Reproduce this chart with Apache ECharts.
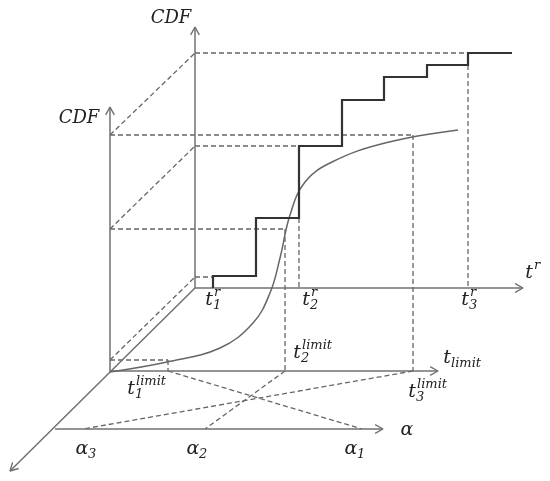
<!DOCTYPE html>
<html>
<head>
<meta charset="utf-8">
<script src="https://cdn.jsdelivr.net/npm/echarts@6/dist/echarts.min.js"></script>
<style>
  html, body { margin: 0; padding: 0; background: #fff; }
  #chart { width: 550px; height: 481px; }
</style>
</head>
<body>
<div id="chart"></div>
<script>
(function () {
    // diagram space = picture pixels (x right, y down)
    const solidAxes = [
        [[195, 288], [195, 27]],
        [[110, 372], [110, 107]],
        [[195, 288], [523, 288]],
        [[110, 371], [438, 371]],
        [[55, 429], [383, 429]],
        [[195, 288], [10, 471]]
    ];
    const stepCdf = [
        [213, 288], [213, 276], [256, 276], [256, 218], [299, 218], [299, 146],
        [342, 146], [342, 100], [384, 100], [384, 77], [427, 77], [427, 65],
        [468, 65], [468, 53], [512, 53]
    ];
    const smoothCdf = [
        [110, 372], [167, 362], [220, 348], [253, 323], [270, 293], [280, 258],
        [290, 215], [305, 182], [332, 162], [385, 143], [458, 130]
    ];
    const guideLines = [
        [[110, 135], [195, 53]],
        [[195, 53], [468, 53]],
        [[110, 135], [413, 135]],
        [[413, 135], [413, 371]],
        [[110, 229], [195, 146]],
        [[195, 146], [299, 146]],
        [[110, 229], [285, 229]],
        [[285, 229], [285, 371]],
        [[299, 218], [299, 288]],
        [[468, 65], [468, 288]],
        [[110, 360], [195, 277]],
        [[195, 277], [213, 277]],
        [[110, 360], [168, 360]],
        [[168, 360], [168, 371]],
        [[168, 371], [362, 429]],
        [[413, 371], [83, 429]],
        [[285, 371], [205, 429]]
    ];
    // [base, sup, sub, centre x, centre y]
    const tickLabels = [
        ['t', 'r', '1', 209, 300],
        ['t', 'r', '2', 306, 300],
        ['t', 'r', '3', 465, 300],
        ['t', 'r', '', 529, 273],
        ['t', 'limit', '1', 131, 389],
        ['t', 'limit', '2', 297, 353],
        ['t', 'limit', '3', 412, 392],
        ['t', '', 'limit', 447, 358],
        ['α', '', '3', 82, 449],
        ['α', '', '2', 193, 449],
        ['α', '', '1', 351, 449],
        ['α', '', '', 407, 430],
        ['CDF', '', '', 171, 18],
        ['CDF', '', '', 79, 118]
    ];

    const ink = '#666';
    const face = 'italic 19px "DejaVu Serif", serif';
    const small = 'italic 13px "DejaVu Serif", serif';

    function arrowHead(seg) {
        const [a, b] = seg;
        const ang = Math.atan2(b[1] - a[1], b[0] - a[0]);
        const len = 9, spread = 0.5;
        const wing = s => [b[0] - len * Math.cos(ang + s), b[1] - len * Math.sin(ang + s)];
        return [wing(spread), b, wing(-spread)];
    }

    function lineSeries(data, style, extra) {
        return Object.assign({
            type: 'line',
            data: data,
            showSymbol: false,
            symbol: 'none',
            silent: true,
            lineStyle: style
        }, extra || {});
    }

    function textParts(item) {
        const [base, sup, sub, cx, cy] = item;
        const big = base === 'CDF' ? 'italic 18px "DejaVu Serif", serif' : face;
        const parts = [{
            type: 'text',
            x: cx, y: cy,
            style: { text: base, font: big, fill: '#222', align: 'center', verticalAlign: 'middle' }
        }];
        const half = base === 'α' ? 6 : 4;
        if (sup) {
            parts.push({
                type: 'text', x: cx + half + 1, y: cy - 7,
                style: { text: sup, font: small, fill: '#222', align: 'left', verticalAlign: 'middle' }
            });
        }
        if (sub) {
            parts.push({
                type: 'text', x: cx + half, y: cy + 6,
                style: { text: sub, font: small, fill: '#222', align: 'left', verticalAlign: 'middle' }
            });
        }
        return parts;
    }

    const chart = echarts.init(document.getElementById('chart'));
    const series = [];
    guideLines.forEach(seg => series.push(lineSeries(seg, { color: ink, width: 1.3, type: [5, 3] })));
    solidAxes.forEach(seg => {
        series.push(lineSeries(seg, { color: '#707070', width: 1.5 }));
        series.push(lineSeries(arrowHead(seg), { color: '#707070', width: 1.4 }));
    });
    series.push(lineSeries(smoothCdf, { color: '#666', width: 1.5 }, { smooth: 0.4 }));
    series.push(lineSeries(stepCdf, { color: '#333', width: 2.2, join: 'miter' }));

    const option = {
        animation: false,
        grid: { left: 0, right: 0, top: 0, bottom: 0 },
        xAxis: { type: 'value', min: 0, max: 550, show: false },
        yAxis: { type: 'value', min: 0, max: 481, inverse: true, show: false },
        series: series,
        graphic: [].concat(...tickLabels.map(textParts))
    };
    chart.setOption(option);
    window.addEventListener('resize', function () {
        chart.resize();
    });
})();
</script>
</body>
</html>
